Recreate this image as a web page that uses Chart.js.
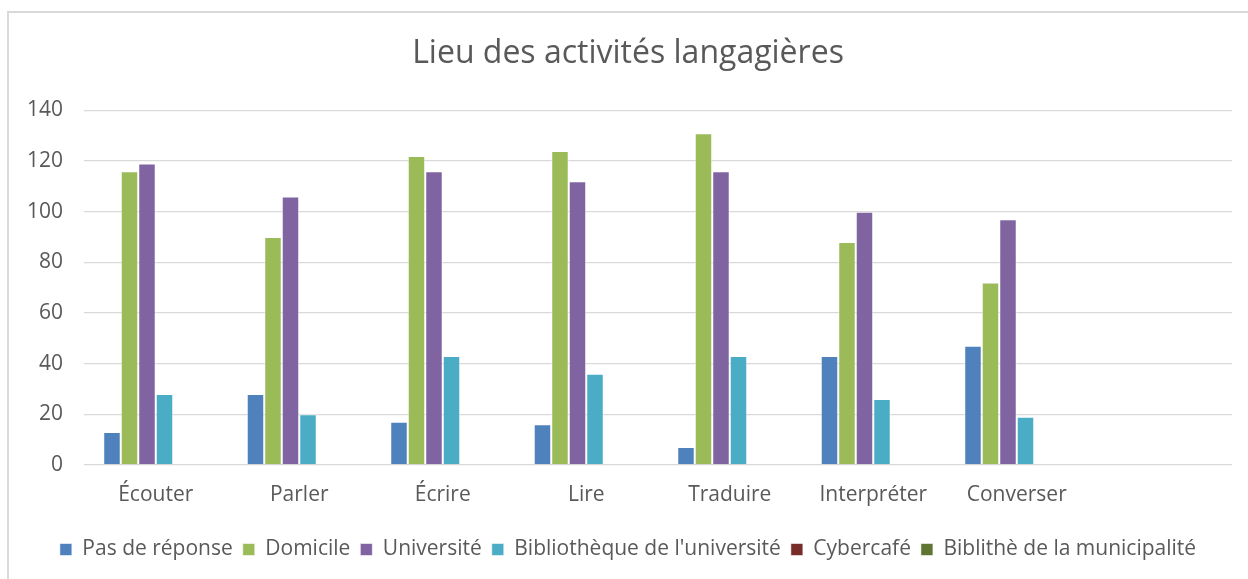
<!DOCTYPE html>
<html lang="fr">
<head>
<meta charset="utf-8">
<title>Lieu des activités langagières</title>
<script src="https://cdn.jsdelivr.net/npm/chart.js@4/dist/chart.umd.min.js"></script>
<style>
    html, body {
        margin: 0;
        padding: 0;
        background: #ffffff;
        overflow: hidden;
    }
    /* chart frame: only the left and top edges are visible in the picture */
    .frame {
        position: absolute;
        left: 7px;
        top: 11px;
        width: 1300px;
        height: 700px;
        border-left: 2px solid #d9d9d9;
        border-top: 2px solid #d9d9d9;
    }
    .wrap {
        position: absolute;
        left: 0;
        top: 0;
        width: 1248px;
        height: 579px;
    }
</style>
</head>
<body>
<div class="frame"></div>
<div class="wrap"><canvas id="lieuChart"></canvas></div>
<script>
// Categories (the last slot is empty in the original chart)
const categories = ['Écouter', 'Parler', 'Écrire', 'Lire', 'Traduire', 'Interpréter', 'Converser', ''];

// Series values
const pasDeReponse = [13, 28, 17, 16, 7, 43, 47];
const domicile = [116, 90, 122, 124, 131, 88, 72];
const universite = [119, 106, 116, 112, 116, 100, 97];
const bibliothequeUniv = [28, 20, 43, 36, 43, 26, 19];
const cybercafe = [0, 0, 0, 0, 0, 0, 0];
const bibliMunicipalite = [0, 0, 0, 0, 0, 0, 0];

const seriesNames = [
    'Pas de réponse',
    'Domicile',
    'Université',
    "Bibliothèque de l'université",
    'Cybercafé',
    'Biblithè de la municipalité'
];
const seriesValues = [pasDeReponse, domicile, universite, bibliothequeUniv, cybercafe, bibliMunicipalite];
const seriesColors = ['#4f81bd', '#9bbb59', '#8064a2', '#4bacc6', '#772c2a', '#5f7530'];

// Y axis ticks
const yTicks = [0, 20, 40, 60, 80, 100, 120, 140];

const textColor = '#595959';
const gridColor = '#d9d9d9';
const fontFamily = '"Open Sans", "Noto Sans", sans-serif';

const datasets = seriesNames.map((name, i) => ({
    label: name,
    data: seriesValues[i],
    backgroundColor: seriesColors[i],
    borderColor: 'rgba(255, 255, 255, 0.55)',
    borderWidth: 1,
    categoryPercentage: 0.732,
    barPercentage: 1.0
}));

document.addEventListener('DOMContentLoaded', function() {
    const ctx = document.getElementById('lieuChart').getContext('2d');
    new Chart(ctx, {
        type: 'bar',
        data: {
            labels: categories,
            datasets: datasets
        },
        options: {
            responsive: true,
            maintainAspectRatio: false,
            animation: false,
            layout: {
                padding: { left: 24, right: 16, top: 0, bottom: 9 }
            },
            plugins: {
                title: {
                    display: true,
                    text: 'Lieu des activités langagières',
                    color: textColor,
                    font: { family: fontFamily, size: 32, weight: 'normal' },
                    padding: { top: 35, bottom: 37 }
                },
                legend: {
                    display: true,
                    position: 'bottom',
                    labels: {
                        color: textColor,
                        boxWidth: 12,
                        boxHeight: 12,
                        padding: 10,
                        font: { family: fontFamily, size: 21 }
                    }
                },
                tooltip: { enabled: false }
            },
            scales: {
                x: {
                    grid: { display: false },
                    border: { display: false },
                    afterFit: function(scale) {
                        // extra room between the category labels and the legend
                        scale.height += 11;
                    },
                    ticks: {
                        color: textColor,
                        padding: 10,
                        maxRotation: 0,
                        font: { family: fontFamily, size: 21 }
                    }
                },
                y: {
                    min: 0,
                    max: 140,
                    afterBuildTicks: function(scale) {
                        scale.ticks = yTicks.map(v => ({ value: v }));
                    },
                    afterFit: function(scale) {
                        scale.width = 60;
                    },
                    grid: {
                        color: gridColor,
                        lineWidth: 1.3,
                        drawTicks: false
                    },
                    border: { display: false },
                    ticks: {
                        color: textColor,
                        padding: 21,
                        font: { family: fontFamily, size: 21 }
                    }
                }
            }
        }
    });
});
</script>
</body>
</html>
